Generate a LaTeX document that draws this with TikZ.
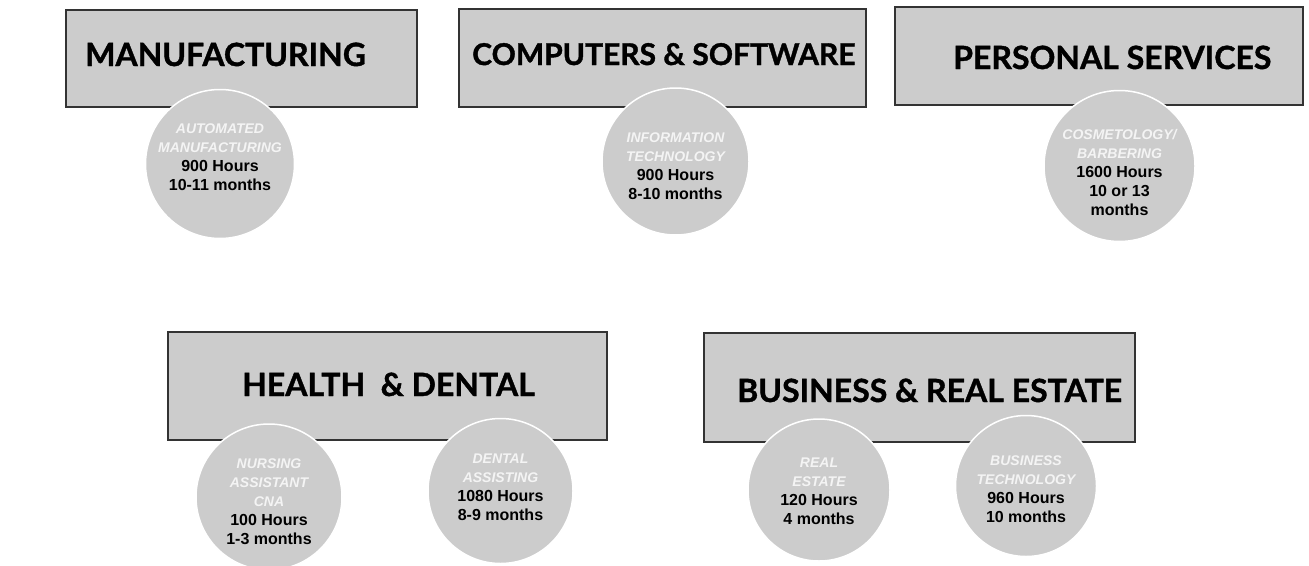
\documentclass[tikz,border=0pt]{standalone}
\usepackage{fontspec}
\usepackage{xcolor}
\usepackage{tikz}
\newfontfamily\headfont{Lato}[BoldFeatures={FakeBold=1.2}]
\newfontfamily\progfont{Liberation Sans}
\definecolor{boxgray}{HTML}{CCCCCC}
\definecolor{edgegray}{HTML}{333333}
\definecolor{progwhite}{HTML}{F4F4F4}
\newcommand{\prog}[1]{{\fontsize{14}{19}\selectfont\itshape\color{progwhite}#1}}
\tikzset{
	catbox/.style={
		rectangle,
		draw=edgegray,
		fill=boxgray,
		line width=1.6pt,
		inner sep=0pt
	},
	cattext/.style={
		anchor=base west,
		inner sep=0pt,
		font=\headfont\bfseries\fontsize{32}{36}\selectfont
	},
	course/.style={
		circle,
		draw=white,
		fill=boxgray,
		line width=1.5pt,
		inner sep=0pt
	},
	coursetext/.style={
		anchor=north,
		inner sep=0pt,
		align=center,
		font=\progfont\bfseries\fontsize{16}{19}\selectfont
	}
}

\begin{document}
\begin{tikzpicture}[x=1pt,y=-1pt]
\useasboundingbox[fill=white] (0,0) rectangle (1309,565);

% category boxes
\node[catbox, minimum width=351pt, minimum height=97pt] (mfg) at (241.5,58.5) {};
\node[catbox, minimum width=407pt, minimum height=98pt] (comp) at (662.5,58) {};
\node[catbox, minimum width=408pt, minimum height=98pt] (pers) at (1099,56) {};
\node[catbox, minimum width=439pt, minimum height=108pt] (health) at (387.5,386) {};
\node[catbox, minimum width=431pt, minimum height=109pt] (bus) at (919.5,387.5) {};

\node[cattext] (mfgtext) at (85,66) {MANUFACTURING};
\node[cattext, font=\headfont\bfseries\fontsize{30}{34}\selectfont] (comptext) at (472,65) {COMPUTERS \& SOFTWARE};
\node[cattext] (perstext) at (953,69) {PERSONAL SERVICES};
\node[cattext] (healthtext) at (242,396) {HEALTH \ \& DENTAL};
\node[cattext] (bustext) at (737,402) {BUSINESS \& REAL ESTATE};

% programs
\node[course, minimum size=149pt] (auto) at (220,164) {};
\node[course, minimum size=147pt] (it) at (675.5,161.5) {};
\node[course, minimum size=151pt] (cosm) at (1119.5,166) {};
\node[course, minimum size=146pt] (cna) at (269,497) {};
\node[course, minimum size=145pt] (dent) at (500.5,491) {};
\node[course, minimum size=142pt] (realest) at (819,490) {};
\node[course, minimum size=141pt] (bustech) at (1026,486) {};

\node[coursetext] (autotext) at (220,124)
	{\prog{AUTOMATED}\\\prog{MANUFACTURING}\\900 Hours\\10-11 months};
\node[coursetext] (ittext) at (675.5,132.5)
	{\prog{INFORMATION}\\\prog{TECHNOLOGY}\\900 Hours\\8-10 months};
\node[coursetext] (cosmtext) at (1119.5,129)
	{\prog{COSMETOLOGY/}\\\prog{BARBERING}\\1600 Hours\\10 or 13\\months};
\node[coursetext] (cnatext) at (269,459)
	{\prog{NURSING}\\\prog{ASSISTANT}\\\prog{CNA}\\100 Hours\\1-3 months};
\node[coursetext] (denttext) at (500.5,453.5)
	{\prog{DENTAL}\\\prog{ASSISTING}\\1080 Hours\\8-9 months};
\node[coursetext] (realesttext) at (819,457.5)
	{\prog{REAL}\\\prog{ESTATE}\\120 Hours\\4 months};
\node[coursetext] (bustechtext) at (1026,456)
	{\prog{BUSINESS}\\\prog{TECHNOLOGY}\\960 Hours\\10 months};
\end{tikzpicture}
\end{document}
